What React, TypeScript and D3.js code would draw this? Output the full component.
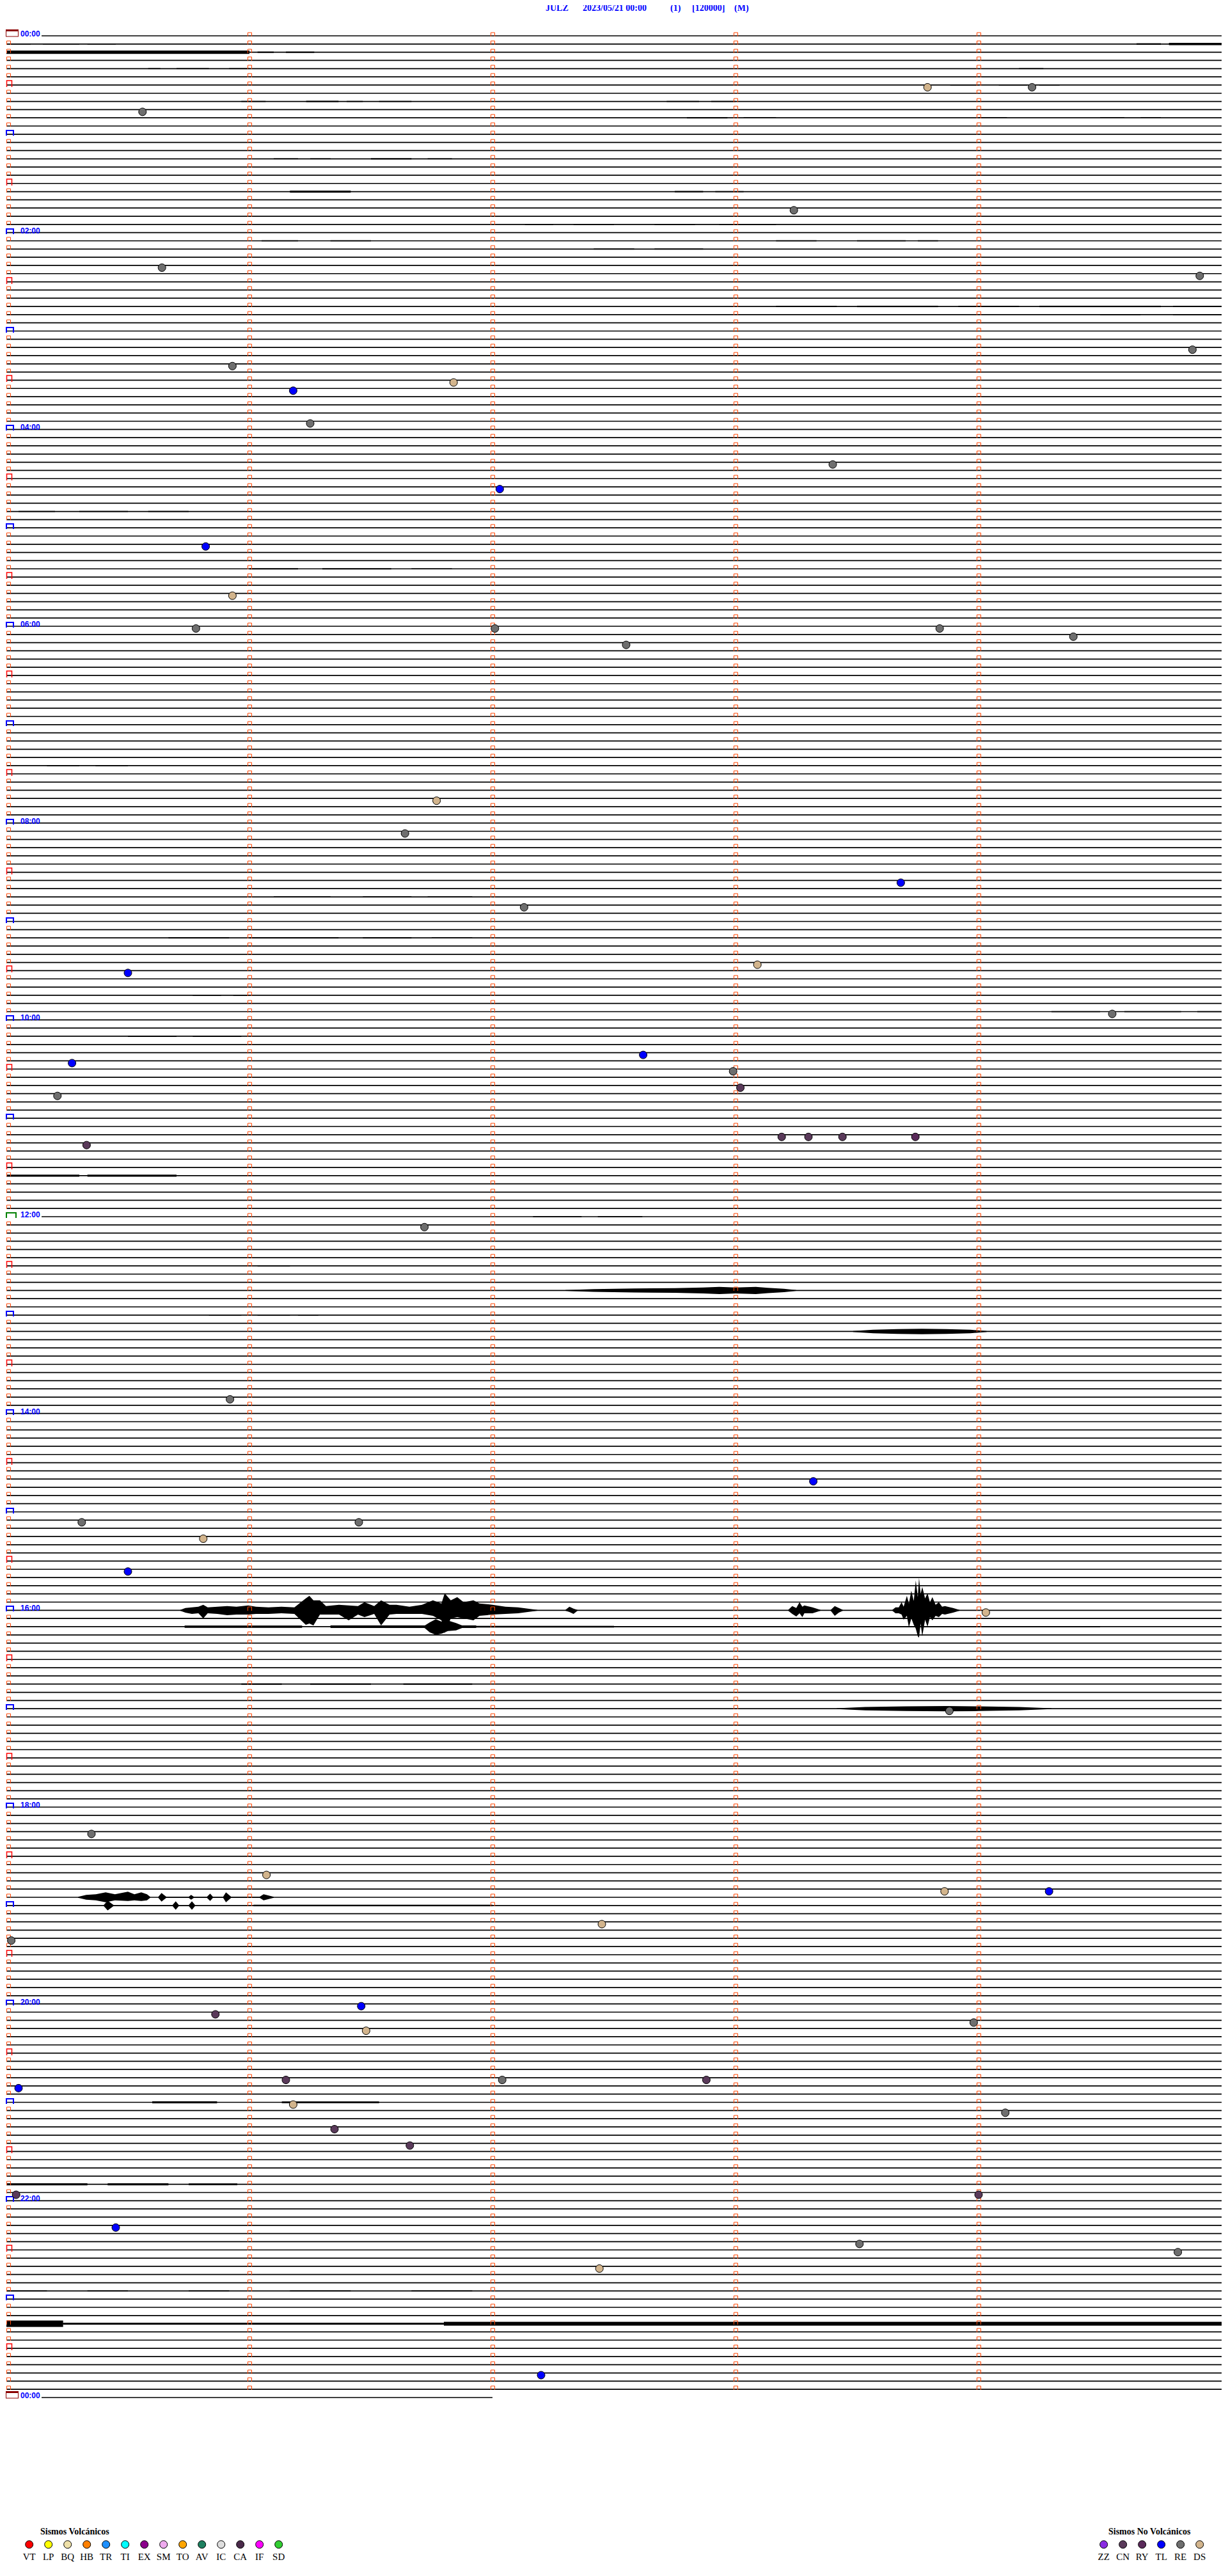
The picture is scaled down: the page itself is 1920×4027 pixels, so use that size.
import React from "react";
import * as d3 from "d3";

// ---------- data ----------
const STATION = "JULZ";
const TITLE_DATE = "2023/05/21 00:00";
const TITLE_PARTS = ["(1)", "[120000]", "(M)"];

const ROWS = 288; // 5-minute rows for 24 h
const SEC_PER_ROW = 300;
const LAST_ROW_SEC = 120; // final row (next day 00:00) length

const HOUR_LABELS = ["00:00", "02:00", "04:00", "06:00", "08:00", "10:00", "12:00", "14:00", "16:00", "18:00", "20:00", "22:00", "00:00"];

const VOLC_TYPES = ["VT", "LP", "BQ", "HB", "TR", "TI", "EX", "SM", "TO", "AV", "IC", "CA", "IF", "SD"];
const VOLC_COLORS = ["#ff0000", "#ffff00", "#eee0a8", "#ff8000", "#1e90ff", "#00ffff", "#8b008b", "#eeaaee", "#ffa500", "#1e8060", "#dddddd", "#4a2a4a", "#ff00ff", "#32cd32"];
const NONVOLC_TYPES = ["ZZ", "CN", "RY", "TL", "RE", "DS"];
const NONVOLC_COLORS = ["#8a2be2", "#5a3a5a", "#5a2a5a", "#0000ff", "#6e6e6e", "#d2b48c"];

// events: minute of day, type
const EVENT_TIMES = [33.79, 34.22, 45.56, 108.24, 140.64, 149.91, 194.88, 200.93, 216.18, 211.84, 236.25, 263.4, 277.03, 310.82, 340.93, 360.78, 362.01, 363.84, 369.39, 372.55, 466.77, 486.64, 518.68, 532.13, 570.5, 568.09, 599.55, 622.62, 625.27, 632.99, 643.02, 645.21, 673.19, 673.3, 673.44, 673.74, 675.33, 726.72, 830.92, 883.32, 905.31, 906.45, 915.81, 935.5, 964.03, 1023.88, 1095.35, 1121.07, 1133.86, 1134.29, 1152.45, 1160.02, 1205.86, 1201.46, 1216.48, 1213.98, 1250.05, 1246.15, 1247.04, 1247.88, 1261.18, 1269.11, 1276.35, 1286.66, 1315.04, 1319.0, 1335.45, 1348.51, 1354.82, 1362.44, 1427.2];
const EVENT_KINDS = ["DS", "RE", "RE", "RE", "RE", "RE", "RE", "RE", "TL", "DS", "RE", "RE", "TL", "TL", "DS", "RE", "RE", "RE", "RE", "RE", "DS", "RE", "TL", "RE", "TL", "DS", "RE", "TL", "TL", "RE", "CN", "RE", "CN", "CN", "CN", "RY", "CN", "RE", "RE", "TL", "RE", "RE", "DS", "TL", "DS", "RE", "RE", "DS", "DS", "TL", "DS", "RE", "CN", "TL", "DS", "RE", "TL", "CN", "RE", "CN", "DS", "RE", "CN", "CN", "CN", "CN", "TL", "RE", "RE", "DS", "TL"];

// background noise segments: [row, startSec, endSec, amplitude]
const NOISE_BANDS: [number, number, number, number][] = [
  [1, 0, 6, 0.8], [1, 9, 18, 0.8], [1, 20, 27, 0.8], [1, 279, 285, 1.2], [1, 287, 300, 1.8],
  [2, 0, 60, 2.6], [2, 62, 66, 1], [2, 69, 76, 1],
  [4, 35, 38, 0.8], [4, 42, 50, 0.8], [4, 55, 60, 0.8], [4, 250, 256, 0.8],
  [6, 233, 240, 0.8], [6, 245, 252, 0.8], [6, 255, 260, 0.8],
  [8, 58, 64, 0.8], [8, 74, 82, 1], [8, 84, 88, 0.8], [8, 92, 100, 0.8], [8, 163, 171, 0.8], [8, 174, 180, 0.8],
  [10, 168, 178, 1], [10, 182, 190, 0.8], [10, 240, 247, 0.8], [10, 270, 276, 0.8], [10, 280, 285, 0.8],
  [15, 66, 72, 0.8], [15, 75, 80, 0.8], [15, 90, 100, 1], [15, 104, 110, 0.8],
  [19, 70, 85, 1.6], [19, 165, 172, 1], [19, 175, 182, 0.8],
  [23, 128, 135, 0.8], [23, 140, 150, 0.8], [23, 160, 170, 0.8], [23, 176, 190, 0.8],
  [25, 63, 72, 0.8], [25, 80, 90, 0.8], [25, 190, 200, 0.8], [25, 210, 222, 0.8], [25, 225, 230, 0.8],
  [26, 145, 155, 0.8], [26, 160, 172, 0.8],
  [33, 190, 205, 1], [33, 210, 230, 1.1], [33, 235, 250, 1], [33, 255, 285, 1.1], [33, 288, 300, 1],
  [34, 270, 280, 0.8], [34, 288, 300, 0.8],
  [58, 3, 12, 0.8], [58, 18, 30, 0.8], [58, 35, 45, 0.8],
  [65, 60, 72, 1], [65, 78, 95, 1], [65, 100, 110, 0.8],
  [89, 10, 18, 0.8], [89, 22, 30, 0.8],
  [105, 66, 80, 0.9], [105, 88, 100, 0.9], [105, 104, 115, 0.8],
  [110, 40, 55, 1], [110, 60, 82, 1], [110, 88, 100, 1], [110, 105, 115, 0.8],
  [117, 46, 53, 0.8], [117, 56, 60, 0.8],
  [119, 258, 270, 0.8], [119, 276, 290, 0.8], [119, 294, 300, 0.8],
  [122, 30, 42, 1], [122, 46, 58, 1],
  [139, 0, 18, 1.6], [139, 20, 42, 1.6],
  [144, 130, 142, 0.8], [144, 146, 157, 0.8], [150, 62, 70, 0.8],
  [156, 50, 58, 0.8], [156, 62, 70, 0.8], [156, 72, 77, 0.8],
  [193, 0, 300, 0.6],
  [194, 44, 73, 1.8], [194, 80, 116, 2], [194, 116, 150, 1.3], [194, 150, 270, 0.9],
  [201, 58, 68, 1], [201, 75, 90, 1], [201, 98, 115, 1],
  [228, 61, 120, 1.2],
  [252, 36, 52, 1.6], [252, 68, 92, 1.4],
  [262, 0, 20, 1.6], [262, 25, 40, 1.6], [262, 45, 57, 1.4],
  [275, 0, 10, 0.8], [275, 20, 30, 0.8], [275, 45, 55, 0.8], [275, 70, 85, 0.8], [275, 100, 115, 0.8],
  [279, 0, 14, 5], [279, 14, 108, 1.5], [279, 108, 300, 3],
];

// waveform envelopes: [sec, up, down]
const ENV_1600_A: [number, number, number][] = [
  [42.9, 0, 0], [44.2, 3, 3], [45.8, 4, 5], [47.4, 5, 4], [48.6, 8, 12], [49.7, 4, 4], [52.1, 5, 5], [54.5, 6, 7],
  [56.8, 5, 6], [59.7, 7, 6], [61.6, 5, 5], [64.7, 4, 5], [67.9, 5, 4], [71.1, 4, 5], [73.9, 18, 22], [74.8, 22, 20],
  [75.8, 15, 23], [77.4, 15, 6], [78.9, 6, 6], [82.1, 8, 6], [84.5, 7, 15], [86.8, 6, 6], [88.4, 12, 10], [90.8, 6, 5],
  [92.5, 15, 23], [94.6, 8, 6], [96.3, 8, 5], [99.5, 5, 5], [102.6, 8, 5], [105.3, 15, 8], [107.4, 10, 15], [108.2, 26, 35],
  [109.7, 15, 12], [111.3, 20, 10], [112.9, 12, 12], [115.3, 15, 15], [116.8, 10, 8], [120, 8, 6], [123.2, 5, 5],
  [126.3, 4, 4], [128.7, 2, 2], [131.1, 0, 0],
];
const ENV_1600_B: [number, number, number][] = [
  [138, 0, 0], [139, 5, 2], [140, 2, 5], [141, 0, 0],
];
const ENV_1600_C: [number, number, number][] = [
  [193, 0, 0], [194, 6, 5], [195, 3, 9], [195.8, 12, 4], [196.5, 5, 10], [197, 7, 4], [199, 4, 4], [201, 0, 0],
];
const ENV_1600_D: [number, number, number][] = [
  [203.5, 0, 0], [204.5, 6, 8], [205.5, 3, 3], [206.5, 0, 0],
];
const ENV_1600_E: [number, number, number][] = [
  [218.7, 0, 0], [219.5, 4, 4], [220.3, 4, 4], [221, 12, 6], [221.5, 5, 14], [222.3, 22, 8], [222.8, 10, 26],
  [223.4, 30, 12], [224, 14, 22], [224.5, 46, 28], [225, 20, 40], [225.3, 50, 42], [225.7, 25, 20], [226.1, 36, 40],
  [226.8, 18, 14], [227.4, 26, 25], [228, 12, 10], [228.6, 20, 15], [229.4, 8, 8], [230.2, 12, 10], [231, 5, 5],
  [231.7, 6, 6], [233.7, 3, 3], [235.3, 0, 0],
];
const ENV_1605_A: [number, number, number][] = [
  [103, 0, 0], [104.5, 6, 8], [106, 11, 12], [107.5, 7, 10], [109, 9, 6], [111, 5, 5], [113, 0, 0],
];
const ENV_1250: [number, number, number][] = [
  [138, 0, 0], [145, 1.5, 1.5], [155, 2.5, 2.5], [165, 3, 3], [172, 4, 4], [176, 5, 5], [180, 4, 4], [185, 5, 5],
  [188, 3.5, 3.5], [192, 2, 2], [195, 0, 0],
];
const ENV_1310: [number, number, number][] = [
  [209, 0, 0], [214, 2, 2], [220, 3, 3], [226, 3.5, 3.5], [232, 3, 3], [238, 2, 2], [242, 0, 0],
];
const ENV_1700: [number, number, number][] = [
  [205, 0, 0], [212, 2, 2], [222, 3, 3], [232, 3.5, 3.5], [240, 3, 3], [250, 2, 2], [258, 0, 0],
];
const ENV_1855_A: [number, number, number][] = [
  [17.7, 0, 0], [19.7, 3, 3], [22.1, 4, 4], [24.5, 7, 7], [26.8, 4, 4], [30, 8, 5], [31.6, 4, 4], [33.3, 7, 5],
  [34.7, 4, 4], [35.5, 0, 0],
];
const ENV_1855_B: [number, number, number][] = [
  [37.5, 0, 0], [38.3, 6, 6], [39.5, 0, 0], [45, 0, 0], [45.6, 3, 3], [46.3, 0, 0], [49.5, 0, 0], [50.3, 5, 5], [51, 0, 0],
  [53.5, 0, 0], [54.2, 7, 7], [55.5, 0, 0], [62.5, 0, 0], [63.5, 4, 4], [66, 0, 0],
];
const ENV_1900: [number, number, number][] = [
  [24, 0, 0], [25, 7, 7], [26.5, 0, 0], [41, 0, 0], [41.8, 6, 6], [42.6, 0, 0], [45, 0, 0], [45.8, 6, 6], [46.6, 0, 0],
];
const ENVELOPES: [number, [number, number, number][]][] = [
  [192, ENV_1600_A], [192, ENV_1600_B], [192, ENV_1600_C], [192, ENV_1600_D], [192, ENV_1600_E],
  [194, ENV_1605_A],
  [153, ENV_1250], [158, ENV_1310], [204, ENV_1700],
  [227, ENV_1855_A], [227, ENV_1855_B], [228, ENV_1900],
];

// ---------- layout ----------
const W = 1920;
const H = 4027;
const X0 = 10;
const X1 = 1910;
const Y0 = 56;
const YN = 3748;

export default function App() {
  const x = d3.scaleLinear().domain([0, SEC_PER_ROW]).range([X0, X1]);
  const y = d3.scaleLinear().domain([0, ROWS]).range([Y0, YN]);
  const amp = d3.scaleLinear().domain([0, 10]).range([0, 10]);
  const rows = d3.range(ROWS + 1);
  const minuteTicks = d3.range(60, SEC_PER_ROW, 60);

  const colorOf: Record<string, string> = {};
  VOLC_TYPES.forEach((t, i) => (colorOf[t] = VOLC_COLORS[i]));
  NONVOLC_TYPES.forEach((t, i) => (colorOf[t] = NONVOLC_COLORS[i]));

  const envPath = (row: number, pts: [number, number, number][]) =>
    d3.area<[number, number, number]>()
      .x((d) => x(d[0]))
      .y0((d) => y(row) + amp(d[2]) + 0.7)
      .y1((d) => y(row) - amp(d[1]) - 0.7)(pts) || "";

  const marker = (px: number, py: number, w: number, h: number) =>
    `M${px},${py + 1}V${py - h}H${px + w}V${py + 1}`;

  return (
    <svg width={W} height={H} style={{ display: "block", margin: "-8px" }} xmlns="http://www.w3.org/2000/svg">
      <rect width={W} height={H} fill="#fff" />
      {/* title */}
      <g fill="#0000ff" fontFamily="'Liberation Serif', serif" fontWeight="bold" fontSize={14}>
        <text x={853} y={17}>{STATION}</text>
        <text x={911} y={17}>{TITLE_DATE}</text>
        <text x={1048} y={17}>{TITLE_PARTS[0]}</text>
        <text x={1082} y={17}>{TITLE_PARTS[1]}</text>
        <text x={1148} y={17}>{TITLE_PARTS[2]}</text>
      </g>

      {/* baselines */}
      <g stroke="#000" strokeWidth={1.7}>
        {rows.map((r) => (
          <line key={r} x1={r % 144 === 0 ? 65 : X0} x2={r === ROWS ? x(LAST_ROW_SEC) : X1} y1={y(r)} y2={y(r)} />
        ))}
      </g>

      {/* noise */}
      <g fill="#000">
        {NOISE_BANDS.map(([r, a, e, v], i) => (
          <rect key={i} x={x(a)} width={x(e) - x(a)} y={y(r) - amp(v)} height={2 * amp(v)} />
        ))}
        {ENVELOPES.map(([r, pts], i) => (
          <path key={i} d={envPath(r, pts)} />
        ))}
      </g>

      {/* minute markers */}
      <g fill="none" stroke="#ff4500" strokeWidth={1}>
        {rows.filter((r) => r < ROWS).map((r) =>
          minuteTicks.map((m) => (
            <path key={r + "-" + m} d={marker(Math.round(x(m)) - 2.5, Math.round(y(r)), 6, 5)} />
          ))
        )}
        {rows.filter((r) => r % 6 !== 0).map((r) => (
          <path key={"s" + r} d={marker(X0 + 0.5, Math.round(y(r)), 6, 5)} />
        ))}
      </g>
      {/* half-hour markers */}
      <g fill="none" stroke="#ff0000" strokeWidth={1.5}>
        {rows.filter((r) => r % 12 === 6).map((r) => (
          <path key={r} d={marker(X0 + 0.5, Math.round(y(r)) + 2, 8, 9)} />
        ))}
      </g>
      {/* hour markers */}
      {rows.filter((r) => r % 12 === 0).map((r) => {
        const yy = Math.round(y(r));
        if (r % 288 === 0) {
          return (
            <g key={r}>
              <rect x={9.5} y={yy - 9} width={19} height={10} fill="none" stroke="#8b0000" strokeWidth={1} />
              <rect x={9} y={yy - 10} width={20} height={3} fill="#8b0000" />
            </g>
          );
        }
        const color = r === 144 ? "#008000" : "#0000ff";
        const w = r === 144 ? 15 : 11;
        return <path key={r} d={marker(X0, yy + 1, w, 7)} fill="none" stroke={color} strokeWidth={2} />;
      })}

      {/* hour labels */}
      <g fontFamily="'Liberation Sans', Arial, sans-serif" fontWeight="bold" fontSize={12} fill="#0000ff">
        {HOUR_LABELS.map((l, i) => (
          <text key={i} x={32} y={Math.round(y(i * 24)) + 0.5}>{l}</text>
        ))}
      </g>

      {/* events */}
      <g stroke="#000" strokeWidth={1}>
        {EVENT_TIMES.map((t, i) => {
          const r = Math.floor(t / 5);
          const s = (t - r * 5) * 60;
          return <circle key={i} cx={x(s)} cy={y(r) + 3.5} r={6} fill={colorOf[EVENT_KINDS[i]]} />;
        })}
      </g>

      {/* legends */}
      <g fontFamily="'Liberation Serif', serif" fill="#000">
        <text x={63} y={3962} fontWeight="bold" fontSize={14}>Sismos Volcánicos</text>
        {VOLC_TYPES.map((t, i) => (
          <g key={t}>
            <circle cx={45.7 + 30 * i} cy={3977.7} r={6} fill={VOLC_COLORS[i]} stroke="#000" />
            <text x={45.7 + 30 * i} y={4002} textAnchor="middle" fontSize={15}>{t}</text>
          </g>
        ))}
        <text x={1733} y={3962} fontWeight="bold" fontSize={14}>Sismos No Volcánicos</text>
        {NONVOLC_TYPES.map((t, i) => (
          <g key={t}>
            <circle cx={1725.7 + 30 * i} cy={3977.7} r={6} fill={NONVOLC_COLORS[i]} stroke="#000" />
            <text x={1725.7 + 30 * i} y={4002} textAnchor="middle" fontSize={15}>{t}</text>
          </g>
        ))}
      </g>
    </svg>
  );
}
